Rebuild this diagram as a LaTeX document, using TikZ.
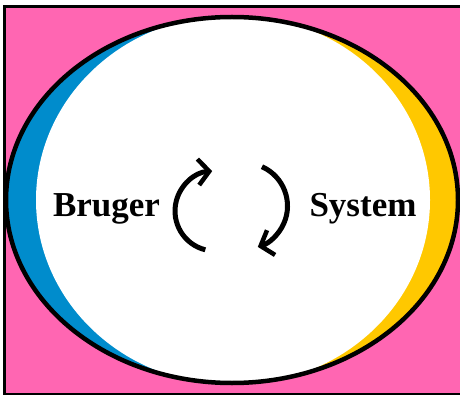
\documentclass[tikz,border=0pt]{standalone}
\usepackage{fontspec}
\setmainfont{Liberation Serif}
\usepackage{tikz}
\usetikzlibrary{arrows.meta,positioning}

\definecolor{bgpink}{RGB}{255,102,178}
\definecolor{userblue}{RGB}{0,140,204}
\definecolor{sysyellow}{RGB}{255,200,0}

\begin{document}
\begin{tikzpicture}[
    x=1pt, y=1pt,
    word/.style={font=\fontsize{35}{40}\selectfont\bfseries, anchor=base, inner sep=0pt},
    cycle/.style={line width=5pt,
        -{Straight Barb[length=11pt, width=26pt, line width=4.5pt]}}
]

\def\rOut{226}
\def\rIn{197}

\useasboundingbox (0,0) rectangle (460,394);

% background
\fill[bgpink, draw=black, line width=3pt] (4.5,-0.5) rectangle (475,387.5);

% crescents inside the outer ellipse
\coordinate (mid) at (232,194);
\coordinate (inner) at (233,194);
\begin{scope}
  \clip (mid) ellipse[x radius=\rOut pt, y radius=183pt];
  \fill[userblue] (0,0) rectangle (233,394);
  \fill[sysyellow] (233,0) rectangle (460,394);
  \fill[white] (inner) ellipse[x radius=\rIn pt, y radius=185pt];
\end{scope}
\draw[line width=4.5pt] (mid) ellipse[x radius=\rOut pt, y radius=183pt];

% labels
\node[word] (bruger) at (106.5,178) {Bruger};
\node[word] (system) at (363,178) {System};

% cycle arrows
\coordinate (cl) at (215,183);
\coordinate (cr) at (244.5,188);
\draw[cycle] ([shift={(256:40)}]cl) arc[start angle=256, end angle=94, radius=40pt];
\draw[cycle] ([shift={(66:43)}]cr) arc[start angle=66, end angle=-72, radius=43pt];

\end{tikzpicture}
\end{document}
